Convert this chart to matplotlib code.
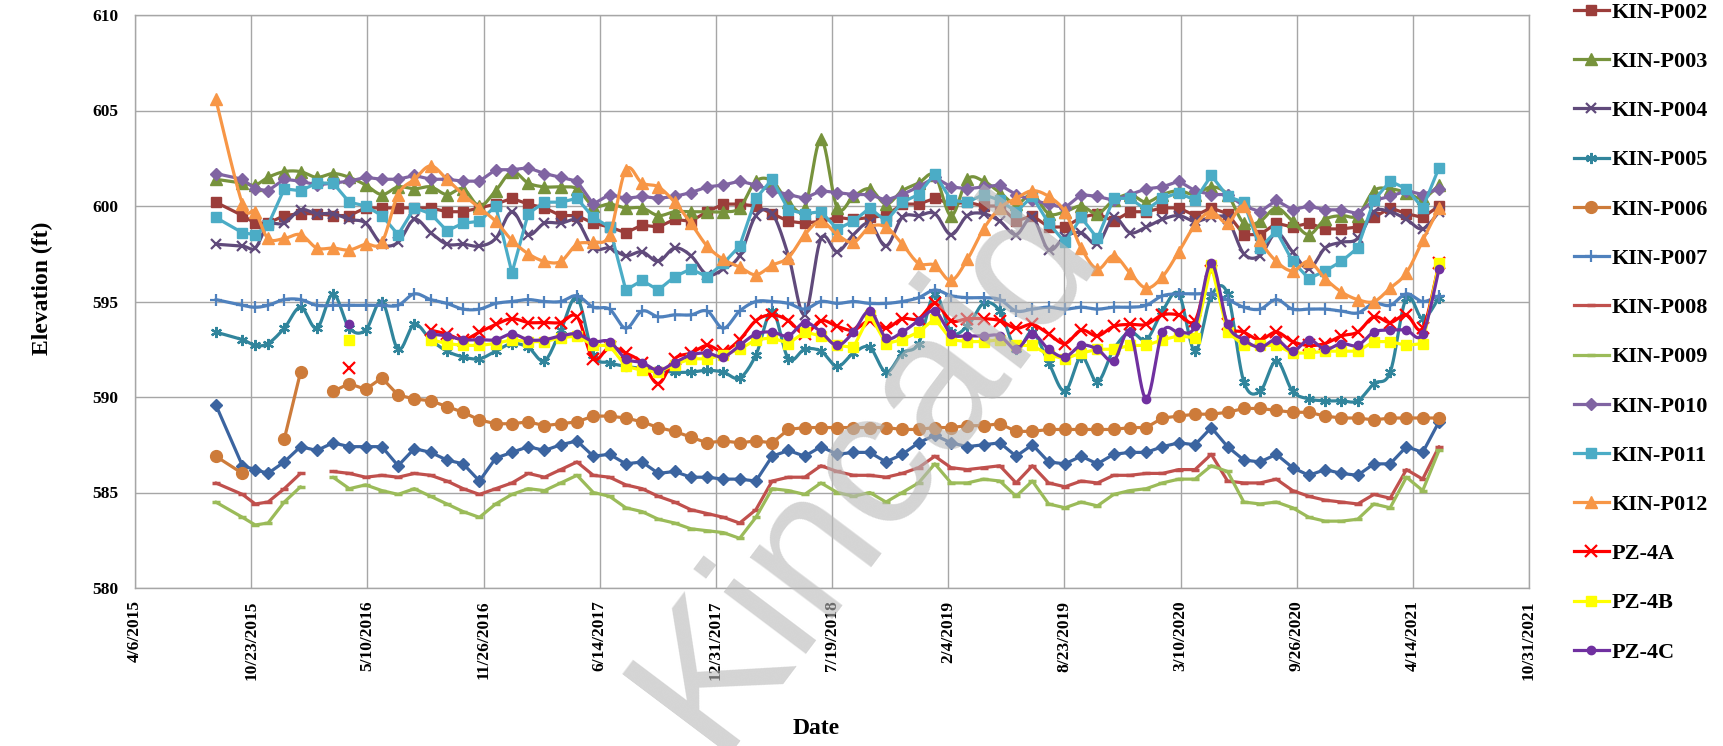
import numpy as np
import pandas as pd
import matplotlib
matplotlib.use("Agg")
import matplotlib.pyplot as plt
import matplotlib.dates as mdates
from matplotlib.lines import Line2D

nan = np.nan

# sampling dates: three early readings, then every 4 weeks
dates = pd.to_datetime(['2015-08-23', '2015-10-08', '2015-10-30']).append(
    pd.date_range('2015-11-21', periods=73, freq='28D'))

kin_p001 = [589.6, 586.4, 586.2, 586.0, 586.6, 587.4, 587.2, 587.6, 587.4, 587.4, 587.4, 586.4, 587.3, 587.1, 586.7, 586.5, 585.6, 586.8, 587.1,
            587.4, 587.2, 587.5, 587.7, 586.9, 587.0, 586.5, 586.6, 586.0, 586.1, 585.8, 585.8, 585.7, 585.7, 585.6, 586.9, 587.2, 586.9, 587.4, 587.0,
            587.1, 587.1, 586.6, 587.0, 587.6, 588.0, 587.6, 587.4, 587.5, 587.6, 586.9, 587.5, 586.6, 586.5, 586.9, 586.5, 587.0, 587.1, 587.1,
            587.4, 587.6, 587.5, 588.4, 587.4, 586.7, 586.6, 587.0, 586.3, 585.9, 586.2, 586.0, 585.9, 586.5, 586.5, 587.4, 587.1, 588.7]
kin_p002 = [600.2, 599.5, 599.1, 599.1, 599.5, 599.6, 599.6, 599.5, 599.5, 599.9, 599.9, 599.9, 599.9, 599.9, 599.7, 599.7, 599.9, 600.1, 600.4,
            600.1, 599.9, 599.5, 599.5, 599.1, 598.9, 598.6, 599.0, 598.9, 599.3, 599.2, 599.7, 600.1, 600.1, 600.0, 599.6, 599.2, 599.1, 599.2, 599.4,
            599.3, 599.4, 599.5, 600.1, 600.1, 600.4, 600.1, 600.2, 600.0, 600.0, 599.2, 599.5, 598.9, 598.9, 599.4, 599.6, 599.2, 599.7, 599.7,
            599.9, 599.9, 599.5, 599.9, 599.6, 598.5, 598.5, 599.1, 598.9, 599.1, 598.8, 598.8, 598.9, 599.4, 599.9, 599.6, 599.4, 600.0]
kin_p003 = [601.4, 601.2, 601.1, 601.5, 601.8, 601.8, 601.5, 601.7, 601.5, 601.1, 600.6, 601.0, 600.9, 601.0, 600.6, 600.9, 600.0, 600.8, 601.8,
            601.2, 601.0, 601.0, 600.9, 600.0, 600.1, 599.9, 599.9, 599.5, 599.7, 599.7, 599.7, 599.7, 599.9, 601.3, 601.3, 600.2, 599.9, 603.5, 599.9,
            600.5, 600.9, 600.1, 600.8, 601.2, 601.6, 599.5, 601.4, 601.3, 600.7, 600.1, 600.6, 599.6, 599.7, 600.0, 599.6, 600.3, 600.6, 600.2,
            600.6, 600.8, 600.6, 601.0, 600.6, 599.1, 599.2, 599.9, 599.2, 598.5, 599.3, 599.5, 599.5, 600.8, 600.9, 600.7, 600.4, 601.1]
kin_p004 = [598.0, 597.9, 597.8, 599.0, 599.1, 599.8, 599.6, 599.6, 599.3, 599.1, 598.0, 598.1, 599.3, 598.6, 598.0, 598.0, 597.9, 598.3, 599.7,
            598.5, 599.1, 599.1, 599.2, 597.8, 597.8, 597.4, 597.6, 597.1, 597.8, 597.4, 596.4, 596.7, 597.4, 599.5, 599.6, 597.4, 594.3, 598.3, 597.6,
            598.5, 599.1, 597.9, 599.4, 599.5, 599.6, 598.5, 599.5, 599.6, 599.2, 598.5, 599.4, 597.7, 598.4, 598.6, 598.0, 599.4, 598.6, 598.9,
            599.3, 599.5, 599.2, 599.4, 599.3, 597.5, 597.4, 598.6, 597.6, 596.7, 597.8, 598.1, 598.3, 599.7, 599.7, 599.3, 598.8, 599.7]
kin_p005 = [593.4, 593.0, 592.7, 592.8, 593.6, 594.7, 593.6, 595.4, 593.6, 593.5, 595.0, 592.5, 593.8, 593.0, 592.4, 592.1, 592.0, 592.4, 592.8,
            592.6, 591.9, 593.5, 595.2, 592.2, 591.8, 591.6, 591.5, 591.4, 591.3, 591.3, 591.4, 591.3, 591.0, 592.2, 594.5, 592.0, 592.5, 592.4, 591.6,
            592.3, 592.6, 591.3, 592.3, 592.8, 595.4, 593.4, 593.7, 594.9, 594.5, 592.5, 593.4, 591.8, 590.3, 592.1, 590.8, 592.5, 593.4, 593.0,
            594.5, 595.4, 592.4, 595.3, 595.4, 590.8, 590.3, 591.9, 590.3, 589.9, 589.8, 589.8, 589.8, 590.7, 591.3, 595.2, 594.1, 595.2]
kin_p006 = [586.9, 586.0, nan, nan, 587.8, 591.3, nan, 590.3, 590.7, 590.4, 591.0, 590.1, 589.9, 589.8, 589.5, 589.2, 588.8, 588.6, 588.6,
            588.7, 588.5, 588.6, 588.7, 589.0, 589.0, 588.9, 588.7, 588.4, 588.2, 587.9, 587.6, 587.7, 587.6, 587.7, 587.6, 588.3, 588.4, 588.4, 588.4,
            588.4, 588.4, 588.4, 588.3, 588.3, 588.4, 588.4, 588.5, 588.5, 588.6, 588.2, 588.2, 588.3, 588.3, 588.3, 588.3, 588.3, 588.4, 588.4,
            588.9, 589.0, 589.1, 589.1, 589.2, 589.4, 589.4, 589.3, 589.2, 589.2, 589.0, 588.9, 588.9, 588.8, 588.9, 588.9, 588.9, 588.9]
kin_p007 = [595.1, 594.8, 594.7, 594.8, 595.1, 595.1, 594.8, 594.8, 594.8, 594.8, 594.8, 594.8, 595.4, 595.1, 594.9, 594.6, 594.6, 594.9, 595.0,
            595.1, 595.0, 595.0, 595.3, 594.7, 594.6, 593.6, 594.5, 594.2, 594.3, 594.3, 594.5, 593.6, 594.5, 595.0, 595.0, 594.9, 594.6, 595.0, 594.9,
            595.0, 594.9, 594.9, 595.0, 595.2, 595.6, 595.3, 595.2, 595.2, 595.1, 594.5, 594.6, 594.7, 594.6, 594.7, 594.6, 594.7, 594.7, 594.8,
            595.3, 595.4, 595.4, 595.4, 595.1, 594.7, 594.6, 595.1, 594.6, 594.6, 594.6, 594.5, 594.4, 594.9, 594.8, 595.4, 595.0, 595.3]
kin_p008 = [585.5, 584.9, 584.4, 584.5, 585.2, 586.0, nan, 586.1, 586.0, 585.8, 585.9, 585.8, 586.0, 585.9, 585.6, 585.2, 584.9, 585.2, 585.5,
            586.0, 585.8, 586.2, 586.6, 585.9, 585.8, 585.4, 585.2, 584.8, 584.5, 584.1, 583.9, 583.7, 583.4, 584.1, 585.6, 585.8, 585.8, 586.4, 586.1,
            585.9, 585.9, 585.8, 586.0, 586.3, 586.9, 586.3, 586.2, 586.3, 586.4, 585.5, 586.4, 585.5, 585.3, 585.6, 585.5, 585.9, 585.9, 586.0,
            586.0, 586.2, 586.2, 587.0, 585.6, 585.5, 585.5, 585.7, 585.1, 584.8, 584.6, 584.5, 584.4, 584.9, 584.7, 586.2, 585.7, 587.4]
kin_p009 = [584.5, 583.7, 583.3, 583.4, 584.5, 585.3, nan, 585.8, 585.2, 585.4, 585.1, 584.9, 585.2, 584.8, 584.4, 584.0, 583.7, 584.4, 584.9,
            585.2, 585.1, 585.5, 585.9, 585.0, 584.8, 584.2, 584.0, 583.6, 583.4, 583.1, 583.0, 582.9, 582.6, 583.7, 585.2, 585.1, 584.9, 585.5, 585.0,
            584.8, 585.0, 584.5, 585.0, 585.5, 586.5, 585.5, 585.5, 585.7, 585.6, 584.8, 585.6, 584.4, 584.2, 584.5, 584.3, 584.9, 585.1, 585.2,
            585.5, 585.7, 585.7, 586.4, 586.1, 584.5, 584.4, 584.5, 584.2, 583.7, 583.5, 583.5, 583.6, 584.4, 584.2, 585.8, 585.1, 587.2]
kin_p010 = [601.7, 601.4, 600.9, 600.8, 601.4, 601.3, 601.1, 601.2, 601.3, 601.5, 601.4, 601.4, 601.6, 601.4, 601.4, 601.3, 601.3, 601.9, 601.9,
            602.0, 601.7, 601.5, 601.3, 600.1, 600.6, 600.4, 600.5, 600.4, 600.5, 600.7, 601.0, 601.1, 601.3, 601.1, 600.8, 600.6, 600.4, 600.8, 600.7,
            600.6, 600.6, 600.3, 600.6, 601.0, 601.5, 601.0, 600.9, 601.0, 601.1, 600.6, 600.3, 600.1, 599.9, 600.6, 600.5, 600.3, 600.6, 600.9,
            601.0, 601.3, 600.8, 600.6, 600.6, 600.0, 599.7, 600.3, 599.8, 600.0, 599.8, 599.8, 599.6, 600.3, 600.5, 600.8, 600.6, 600.9]
kin_p011 = [599.4, 598.6, 598.5, 599.0, 600.9, 600.8, 601.2, 601.2, 600.2, 600.0, 599.5, 598.5, 599.9, 599.6, 598.7, 599.1, 599.2, 600.0, 596.5,
            599.6, 600.2, 600.2, 600.4, 599.4, 598.9, 595.6, 596.1, 595.6, 596.3, 596.7, 596.3, 597.0, 597.9, 600.4, 601.4, 599.8, 599.6, 599.7, 598.8,
            599.2, 599.9, 599.2, 600.2, 600.6, 601.7, 600.3, 600.2, 600.6, 600.3, 599.7, 600.5, 599.1, 598.1, 599.4, 598.3, 600.4, 600.4, 599.8,
            600.4, 600.7, 600.3, 601.6, 600.5, 600.2, 597.8, 598.7, 597.1, 596.2, 596.6, 597.1, 597.8, 600.3, 601.3, 600.9, 599.9, 602.0]
kin_p012 = [605.6, 600.1, 599.7, 598.3, 598.3, 598.5, 597.8, 597.8, 597.7, 598.0, 598.1, 600.6, 601.4, 602.1, 601.4, 600.6, 599.9, 599.2, 598.2,
            597.5, 597.1, 597.1, 598.0, 598.1, 598.5, 601.9, 601.2, 601.0, 600.2, 599.1, 597.9, 597.2, 596.8, 596.4, 596.9, 597.3, 598.5, 599.2, 598.5,
            598.1, 598.9, 598.9, 598.0, 597.0, 596.9, 596.1, 597.2, 598.8, 599.9, 600.4, 600.8, 600.5, 599.7, 597.8, 596.7, 597.4, 596.5, 595.7,
            596.3, 597.6, 599.0, 599.7, 599.1, 600.0, 598.2, 597.1, 596.6, 597.1, 596.2, 595.5, 595.1, 595.0, 595.7, 596.5, 598.2, 599.9]
pz_4a = [nan, nan, nan, nan, nan, nan, nan, nan, 591.5, nan, nan, nan, nan, 593.5, 593.3, 593.0, 593.4, 593.8, 594.1,
         593.9, 593.9, 593.9, 594.2, 592.0, 592.6, 592.3, 591.8, 590.7, 592.0, 592.3, 592.7, 592.4, 593.0, 594.0, 594.3, 594.0, 593.3, 594.0, 593.7,
         593.5, 594.0, 593.6, 594.1, 594.1, 594.9, 594.0, 594.1, 594.1, 594.0, 593.6, 593.8, 593.3, 592.8, 593.5, 593.2, 593.7, 593.8, 593.8,
         594.3, 594.3, 594.0, 596.6, 593.8, 593.4, 593.0, 593.4, 592.9, 592.7, 592.8, 593.2, 593.4, 594.2, 593.9, 594.3, 593.6, 597.0]
pz_4b = [nan, nan, nan, nan, nan, nan, nan, nan, 593.0, nan, nan, nan, nan, 593.0, 592.8, 592.7, 592.7, 592.8, 593.0,
         592.9, 592.9, 593.1, 593.2, 592.7, 592.7, 591.6, 591.4, 591.3, 591.7, 592.0, 592.0, 592.2, 592.5, 593.0, 593.1, 592.8, 593.4, 593.2, 592.7,
         592.6, 594.3, 592.8, 593.0, 593.4, 594.1, 593.0, 592.9, 592.9, 593.0, 592.7, 592.7, 592.2, 592.0, 592.3, 592.5, 592.5, 592.7, 592.7,
         593.0, 593.2, 593.1, 596.9, 593.4, 592.7, 592.7, 592.7, 592.3, 592.3, 592.4, 592.4, 592.4, 592.9, 592.9, 592.7, 592.8, 597.0]
pz_4c = [nan, nan, nan, nan, nan, nan, nan, nan, 593.8, nan, nan, nan, nan, 593.3, 593.2, 593.0, 593.0, 593.0, 593.3,
         593.0, 593.0, 593.2, 593.3, 592.9, 592.9, 592.0, 591.8, 591.4, 591.8, 592.2, 592.3, 592.1, 592.7, 593.3, 593.4, 593.2, 593.9, 593.4, 592.7,
         593.4, 594.5, 593.1, 593.4, 594.0, 594.5, 593.3, 593.2, 593.2, 593.2, 592.5, 593.3, 592.5, 592.1, 592.7, 592.5, 591.9, 593.4, 589.9,
         593.4, 593.4, 593.7, 597.0, 593.8, 593.0, 592.6, 593.0, 592.4, 593.0, 592.5, 592.8, 592.7, 593.4, 593.5, 593.5, 593.3, 596.7]

xtick_dates = pd.date_range('2015-04-06', periods=13, freq='200D')

# name, values, color, marker, size, smoothed line, in legend
series = [
    ('KIN-P001', kin_p001, '#3B64A0', 'D', 6.5, False, False),
    ('KIN-P002', kin_p002, '#9B3D3A', 's', 7.5, False, True),
    ('KIN-P003', kin_p003, '#77933C', '^', 8, True, True),
    ('KIN-P004', kin_p004, '#604A7B', 'x', 7, True, True),
    ('KIN-P005', kin_p005, '#31859C', (6, 2, 0), 8, True, True),
    ('KIN-P006', kin_p006, '#CD7B3A', 'o', 8.5, False, True),
    ('KIN-P007', kin_p007, '#4F81BD', '+', 8, True, True),
    ('KIN-P008', kin_p008, '#C0504D', '_', 6, False, True),
    ('KIN-P009', kin_p009, '#9BBB59', '_', 6, False, True),
    ('KIN-P010', kin_p010, '#8064A2', 'D', 6.5, False, True),
    ('KIN-P011', kin_p011, '#4BACC6', 's', 7.5, False, True),
    ('KIN-P012', kin_p012, '#F79646', '^', 8, True, True),
    ('PZ-4A', pz_4a, '#FF0000', 'x', 8, True, True),
    ('PZ-4B', pz_4b, '#FFFF00', 's', 7.5, False, True),
    ('PZ-4C', pz_4c, '#7030A0', 'o', 6, True, True),
]


def smooth_line(x, y, n=12):
    # excel-like smoothed line (catmull-rom bezier) through each unbroken run
    out_x, out_y = [], []
    ok = ~np.isnan(y)
    idx = np.where(ok)[0]
    runs = np.split(idx, np.where(np.diff(idx) > 1)[0] + 1)
    t = np.linspace(0, 1, n)[:, None]
    for r in runs:
        px, py = x[r], y[r]
        if len(r) < 3:
            out_x += list(px) + [nan]
            out_y += list(py) + [nan]
            continue
        for i in range(len(r) - 1):
            i0 = max(i - 1, 0)
            i3 = min(i + 2, len(r) - 1)
            p1 = np.array([px[i], py[i]])
            p2 = np.array([px[i + 1], py[i + 1]])
            b1 = p1 + (p2 - np.array([px[i0], py[i0]])) / 6
            b2 = p2 - (np.array([px[i3], py[i3]]) - p1) / 6
            pts = ((1 - t) ** 3) * p1 + 3 * ((1 - t) ** 2) * t * b1 + 3 * (1 - t) * t ** 2 * b2 + t ** 3 * p2
            out_x += list(pts[:, 0])
            out_y += list(pts[:, 1])
        out_x.append(nan)
        out_y.append(nan)
    return np.array(out_x), np.array(out_y)


plt.rcParams['font.family'] = ['Liberation Serif', 'DejaVu Serif']
plt.rcParams['font.weight'] = 'bold'

fig = plt.figure(figsize=(17.24, 7.46), dpi=100)
ax = fig.add_axes([135 / 1724, 1 - 588 / 746, (1529 - 135) / 1724, (588 - 15) / 746])

xnum = mdates.date2num(dates)
handles, labels = [], []
for name, vals, color, mk, ms, smooth, in_leg in series:
    y = np.array(vals, dtype=float)
    mew = 1.6 if mk in ('x', '+', '_') or isinstance(mk, tuple) else 1
    if mk == '_':
        mew = 2.5
    if smooth:
        sx, sy = smooth_line(xnum, y)
    else:
        sx, sy = xnum, y
    ax.plot(sx, sy, color=color, lw=2.3, solid_capstyle='round')
    ax.plot(xnum, y, ls='none', marker=mk, ms=ms, color=color, mec=color, mew=mew)
    if in_leg:
        handles.append(Line2D([], [], color=color, lw=2.3, marker=mk, ms=ms, mec=color, mew=mew))
        labels.append(name)

ax.set_xlim(mdates.date2num(pd.Timestamp('2015-04-06')), mdates.date2num(pd.Timestamp('2021-10-31')))
ax.set_ylim(580, 610)
ax.set_yticks(np.arange(580, 611, 5))
ax.set_xticks(mdates.date2num(xtick_dates))
ax.set_xticklabels([f"{d.month}/{d.day}/{d.year}" for d in xtick_dates], rotation=90, fontsize=12.5, fontweight='bold')
ax.tick_params(axis='y', labelsize=12.5, length=0, pad=12)
ax.tick_params(axis='x', length=0, pad=9)
for lab in ax.get_yticklabels():
    lab.set_fontweight('bold')
ax.grid(True, color='#A6A6A6', lw=1.0)
ax.set_axisbelow(True)
for sp in ax.spines.values():
    sp.set_color('#A6A6A6')
    sp.set_linewidth(1.0)

fig.text(42 / 1724, 1 - 288 / 746, 'Elevation (ft)', rotation=90, ha='center', va='center',
         fontsize=17, fontweight='bold')
fig.text(816 / 1724, 1 - 729 / 746, 'Date', ha='center', va='center', fontsize=17, fontweight='bold')

fig.legend(handles, labels, loc='upper left', bbox_to_anchor=(1572 / 1724, 1.0), frameon=False,
           prop={'family': 'Liberation Serif', 'weight': 'bold', 'size': 16},
           labelspacing=1.29, handlelength=1.55, handletextpad=0.15, borderaxespad=0, borderpad=0.1)

# watermark, runs off the lower edge like the original
fig.text(866 / 1724, 1 - 470 / 746, 'Kincaid', rotation=53, ha='center', va='center', fontsize=140,
         family='Liberation Sans', fontweight='normal', color=(0.72, 0.72, 0.72), alpha=0.6, zorder=10)

fig.savefig('out.png', dpi=100)
